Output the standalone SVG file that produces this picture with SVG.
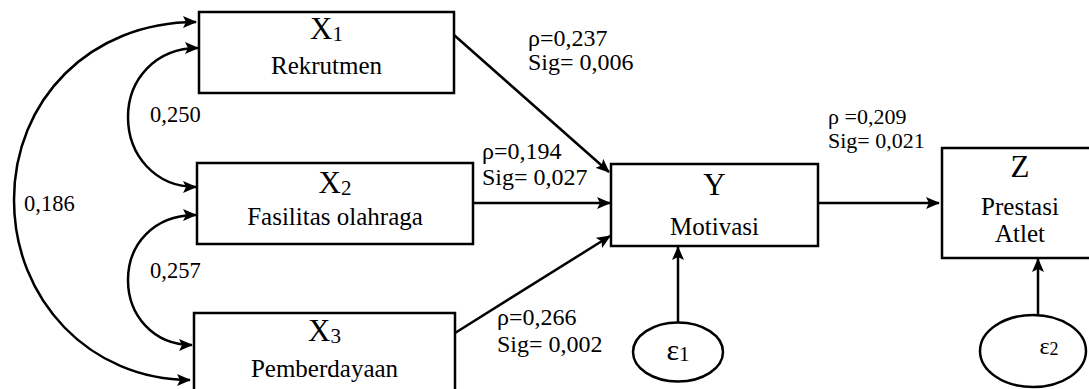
<svg xmlns="http://www.w3.org/2000/svg" width="1089" height="389" viewBox="0 0 1089 389">
<defs>
<marker id="ah" viewBox="0 0 14 12" refX="13" refY="6" markerWidth="14" markerHeight="12" markerUnits="userSpaceOnUse" orient="auto-start-reverse">
<path d="M0,0 L14,6 L0,12 L3,6 Z" fill="#000"/>
</marker>
<style>
.box{fill:#fff;stroke:#000;stroke-width:2.5}
.ell{fill:#fff;stroke:#000;stroke-width:2.5}
.ln{fill:none;stroke:#000;stroke-width:2.5}
text{font-family:"Liberation Serif","Times New Roman",serif;fill:#000}
.big{font-size:31px}
.lab{font-size:25px}
.rho{font-size:24px}
.rho2{font-size:22px}
.num{font-size:22.5px}
.sub{font-size:21px}
</style>
</defs>
<rect width="1089" height="389" fill="#fff"/>
<g id="connectors">
<path class="ln" d="M196,22 C90,22 14,100 14,200 C14,300 90,380 190,380" marker-start="url(#ah)" marker-end="url(#ah)"/>
<path class="ln" d="M198,48 C155,48 128,80 128,117 C128,155 155,187 196,187" marker-start="url(#ah)" marker-end="url(#ah)"/>
<path class="ln" d="M196,215 C153,215 128,245 128,280 C128,315 153,345 192,345" marker-start="url(#ah)" marker-end="url(#ah)"/>
<line class="ln" x1="454" y1="35" x2="609" y2="172" marker-end="url(#ah)"/>
<line class="ln" x1="473" y1="203" x2="610" y2="203" marker-end="url(#ah)"/>
<line class="ln" x1="455" y1="333" x2="610" y2="236" marker-end="url(#ah)"/>
<line class="ln" x1="818" y1="203" x2="939" y2="203" marker-end="url(#ah)"/>
<line class="ln" x1="678" y1="323" x2="678" y2="247" marker-end="url(#ah)"/>
<line class="ln" x1="1038" y1="315" x2="1038" y2="259" marker-end="url(#ah)"/>
</g>
<g id="labels">
<text class="num" x="150" y="122">0,250</text>
<text class="num" x="24" y="211">0,186</text>
<text class="num" x="150" y="278">0,257</text>
<text class="rho" x="528" y="46">ρ=0,237</text>
<text class="rho" x="528" y="70">Sig= 0,006</text>
<text class="rho" x="482" y="159">ρ=0,194</text>
<text class="rho" x="482" y="185">Sig= 0,027</text>
<text class="rho" x="497" y="325">ρ=0,266</text>
<text class="rho" x="497" y="352">Sig= 0,002</text>
<text class="rho2" x="828" y="124">ρ =0,209</text>
<text class="rho2" x="828" y="148">Sig= 0,021</text>
</g>
<g id="X1">
<rect class="box" x="199" y="12" width="255" height="81"/>
<text class="big" x="326.5" y="39" text-anchor="middle">X<tspan class="sub" dy="2">1</tspan></text>
<text class="lab" x="326.5" y="74" text-anchor="middle">Rekrutmen</text>
</g>
<g id="X2">
<rect class="box" x="197" y="163" width="276" height="81"/>
<text class="big" x="335" y="193" text-anchor="middle">X<tspan class="sub" dy="2">2</tspan></text>
<text class="lab" x="335" y="225" text-anchor="middle">Fasilitas olahraga</text>
</g>
<g id="X3">
<rect class="box" x="194" y="313" width="261" height="90"/>
<text class="big" x="324.5" y="341" text-anchor="middle">X<tspan class="sub" dy="2">3</tspan></text>
<text class="lab" x="324.5" y="377" text-anchor="middle">Pemberdayaan</text>
</g>
<g id="Y">
<rect class="box" x="611" y="164" width="207" height="82"/>
<text class="big" x="714.5" y="195" text-anchor="middle">Y</text>
<text class="lab" x="714.5" y="235" text-anchor="middle">Motivasi</text>
</g>
<g id="Z">
<rect class="box" x="942" y="148" width="160" height="110"/>
<text class="big" x="1020" y="177" text-anchor="middle">Z</text>
<text class="lab" x="1020" y="215" text-anchor="middle">Prestasi</text>
<text class="lab" x="1020" y="242" text-anchor="middle">Atlet</text>
</g>
<g id="e1">
<ellipse class="ell" cx="678" cy="352" rx="45" ry="29.5"/>
<text x="678" y="360" text-anchor="middle" font-size="30">ε<tspan font-size="21" dy="1">1</tspan></text>
</g>
<g id="e2">
<ellipse class="ell" cx="1033" cy="351" rx="53" ry="36"/>
<text x="1049" y="354" text-anchor="middle" font-size="24">ε<tspan font-size="18" dy="1">2</tspan></text>
</g>
</svg>
